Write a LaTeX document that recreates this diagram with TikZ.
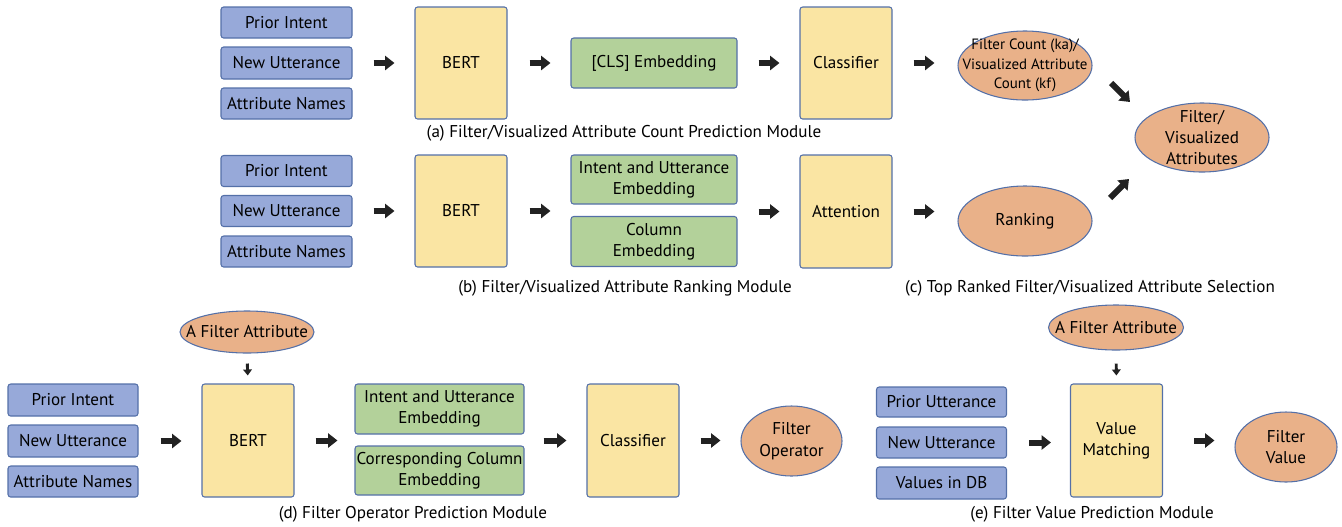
\documentclass[tikz,border=0pt]{standalone}
\usepackage{fontspec}
\setmainfont{PT Sans}
\usetikzlibrary{arrows.meta,shapes.geometric}
\definecolor{bluef}{HTML}{97A9D9}
\definecolor{yellowf}{HTML}{FAE5A3}
\definecolor{greenf}{HTML}{B3D19A}
\definecolor{orangef}{HTML}{E9B189}
\definecolor{edgec}{HTML}{5470A8}
\definecolor{arrowc}{HTML}{222222}
\tikzset{
  sz/.style 2 args={minimum width=#1*0.75pt, minimum height=#2*0.75pt},
  base/.style={draw=edgec, line width=0.8pt, inner sep=1pt, align=center, font=\fontsize{12.8}{16}\selectfont},
  inbox/.style={base, fill=bluef, rounded corners=2pt},
  ybox/.style={base, fill=yellowf, rounded corners=2pt},
  gbox/.style={base, fill=greenf, rounded corners=2pt},
  oell/.style={draw=edgec, line width=0.8pt, fill=orangef, ellipse, inner sep=0pt},
  etxt/.style={inner sep=0pt, align=center, font=\fontsize{12.8}{16}\selectfont},
  captxt/.style={font=\fontsize{12.8}{15}\selectfont},
  blk/.style={draw=arrowc, line width=4.5pt, -{Triangle[length=7pt,width=10.5pt]}},
  sblk/.style={draw=arrowc, line width=2.2pt, -{Triangle[length=4.5pt,width=6.5pt]}},
}
\begin{document}
\begin{tikzpicture}[x=0.75pt,y=-0.75pt]
\useasboundingbox (0,0) rectangle (1342,526);
% ---------- row (a)
\node[inbox, sz={131}{31}] (a1) at (286.5,22.5) {Prior Intent};
\node[inbox, sz={131}{32}] (a2) at (286.5,63) {New Utterance};
\node[inbox, sz={131}{31}] (a3) at (286.5,103.5) {Attribute Names};
\node[ybox, sz={92}{112}] (aB) at (461,63) {BERT};
\node[gbox, sz={166}{50}] (aC) at (654,63) {[CLS] Embedding};
\node[ybox, sz={92}{112}] (aK) at (846,63) {Classifier};
\node[oell, sz={134}{69}] (aO) at (1025,65.5) {};
\node[etxt, font=\fontsize{11.2}{14.6}\selectfont] (aOt) at (aO.center) {Filter Count (ka)/\\Visualized Attribute\\Count (kf)};
\node[captxt] (capA) at (624,133) {(a) Filter/Visualized Attribute Count Prediction Module};
\draw[blk, shorten <=21*0.75pt, shorten >=20*0.75pt] (a2.east) -- (aB.west);
\draw[blk, shorten <=22*0.75pt, shorten >=20*0.75pt] (aB.east) -- (aC.west);
\draw[blk, shorten <=21*0.75pt, shorten >=20*0.75pt] (aC.east) -- (aK.west);
\draw[blk, shorten <=21*0.75pt, shorten >=23*0.75pt] (aK.east) -- (aK.east -| aO.west);
% ---------- row (b)
\node[inbox, sz={131}{31}] (b1) at (286.5,171) {Prior Intent};
\node[inbox, sz={131}{31}] (b2) at (286.5,211) {New Utterance};
\node[inbox, sz={131}{31}] (b3) at (286.5,251.5) {Attribute Names};
\node[ybox, sz={92}{112}] (bB) at (461,211) {BERT};
\node[gbox, sz={166}{49}] (bI) at (654,179.5) {Intent and Utterance\\Embedding};
\node[gbox, sz={166}{50}] (bC) at (654,241.5) {Column\\Embedding};
\node[ybox, sz={92}{113}] (bA) at (846,211.5) {Attention};
\node[oell, sz={134}{70}] (bR) at (1025,221) {};
\node[etxt] (bRt) at (bR.center) {Ranking};
\node[captxt] (capB) at (625,288) {(b) Filter/Visualized Attribute Ranking Module};
\draw[blk, shorten <=21*0.75pt, shorten >=20*0.75pt] (b2.east) -- (bB.west);
\draw[blk, shorten <=22*0.75pt, shorten >=20*0.75pt] (bB.east) -- (bB.east -| bI.west);
\draw[blk, shorten <=21*0.75pt, shorten >=20*0.75pt] (bA.west -| bI.east) -- (bA.west);
\draw[blk, shorten <=21*0.75pt, shorten >=23*0.75pt] (bA.east) -- (bA.east -| bR.west);
% ---------- (c)
\node[oell, sz={134}{69}] (fva) at (1202,137.5) {};
\node[etxt] (fvat) at (fva.center) {Filter/\\Visualized\\Attributes};
\node[captxt] (capC) at (1090,288) {(c) Top Ranked Filter/Visualized Attribute Selection};
\coordinate (c1s) at (1111,83);
\coordinate (c1e) at (1130,102);
\coordinate (c2s) at (1110,198);
\coordinate (c2e) at (1129,179);
\draw[blk] (c1s) -- (c1e);
\draw[blk] (c2s) -- (c2e);
% ---------- row (d)
\node[inbox, sz={130}{32}] (d1) at (73,400) {Prior Intent};
\node[inbox, sz={130}{32}] (d2) at (73,441) {New Utterance};
\node[inbox, sz={130}{31}] (d3) at (73,481.5) {Attribute Names};
\node[ybox, sz={92}{113}] (dB) at (248,440.5) {BERT};
\node[oell, sz={134}{42}] (dF) at (247,332) {};
\node[etxt] (dFt) at (dF.center) {A Filter Attribute};
\node[gbox, sz={169}{50}] (dI) at (439.5,409) {Intent and Utterance\\Embedding};
\node[gbox, sz={169}{49}] (dC) at (439.5,470.5) {Corresponding Column\\Embedding};
\node[ybox, sz={92}{113}] (dK) at (633,440.5) {Classifier};
\node[oell, sz={101}{70}] (dO) at (791.5,441) {};
\node[etxt] (dOt) at (dO.center) {Filter\\Operator};
\node[captxt] (capD) at (413,514) {(d) Filter Operator Prediction Module};
\draw[blk, shorten <=22*0.75pt, shorten >=20*0.75pt] (d2.east) -- (dB.west |- d2.east);
\draw[sblk, shorten <=10*0.75pt, shorten >=8*0.75pt] (dF.south) -- (dB.north);
\draw[blk, shorten <=21*0.75pt, shorten >=17*0.75pt] (dB.east) -- (dB.east -| dI.west);
\draw[blk, shorten <=19*0.75pt, shorten >=20*0.75pt] (dK.west -| dI.east) -- (dK.west);
\draw[blk, shorten <=21*0.75pt, shorten >=20*0.75pt] (dK.east) -- (dK.east -| dO.west);
% ---------- row (e)
\node[inbox, sz={130}{30}] (e1) at (941.5,402) {Prior Utterance};
\node[inbox, sz={130}{31}] (e2) at (941.5,442.5) {New Utterance};
\node[inbox, sz={130}{32}] (e3) at (941.5,483) {Values in DB};
\node[ybox, sz={92}{113}] (eV) at (1116.5,440.5) {Value\\Matching};
\node[oell, sz={135}{45}] (eF) at (1116,327.5) {};
\node[etxt] (eFt) at (eF.center) {A Filter Attribute};
\node[oell, sz={102}{70}] (eO) at (1286,447) {};
\node[etxt] (eOt) at (eO.center) {Filter\\Value};
\node[captxt] (capE) at (1092,514) {(e) Filter Value Prediction Module};
\draw[blk, shorten <=22*0.75pt, shorten >=19*0.75pt] (e2.east) -- (eV.west |- e2.east);
\draw[sblk, shorten <=13*0.75pt, shorten >=8*0.75pt] (eF.south) -- (eV.north);
\draw[blk, shorten <=31*0.75pt, shorten >=20*0.75pt] (eV.east) -- (eV.east -| eO.west);
\end{tikzpicture}
\end{document}
